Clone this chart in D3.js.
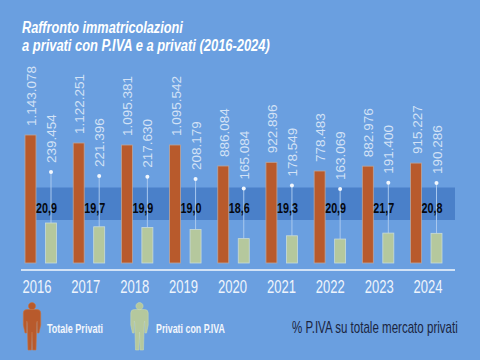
<!DOCTYPE html>
<html><head><meta charset="utf-8">
<script src="https://cdn.jsdelivr.net/npm/d3@7/dist/d3.min.js"></script>
<style>
html,body{margin:0;padding:0;background:#6a9fe0}
svg{display:block}
text{font-family:"Liberation Sans",sans-serif}
</style></head><body>
<script>
const years = ["2016","2017","2018","2019","2020","2021","2022","2023","2024"];
const totalePrivati = [1143078,1122251,1095381,1095542,886084,922896,778483,882976,915227];
const privatiPiva = [239454,221396,217630,208179,165084,178549,163069,191400,190286];
const quotaPiva = [20.9,19.7,19.9,19.0,18.6,19.3,20.9,21.7,20.8];
const titleLines = ["Raffronto immatricolazioni","a privati con P.IVA e a privati (2016-2024)"];

const W=480,H=360,base=263;
const orange="#b85a2c",green="#b5c89d",bg="#6a9fe0",band="#4a80c9",pale="#d3e2f6";
const svg=d3.select("body").append("svg").attr("width",W).attr("height",H);
svg.append("rect").attr("width",W).attr("height",H).attr("fill",bg);

const fmt=d3.formatLocale({decimal:",",thousands:".",grouping:[3],currency:["","€"]});
const num=fmt.format(",d"), pct=fmt.format(".1f");

const xBar=d3.scalePoint().domain(years).range([30.5,416]);
const xYear=d3.scaleBand().domain(years).range([12.5,452.5]);
// The source graphic is not drawn to one common scale: each series has its own.
const hOrange=d3.scaleLinear().domain([778483,886084,1095381,1122251,1143078]).range([92,97,118,120,128]);
const hGreen=d3.scaleLinear().domain([49000,239454]).range([0,40]);
const hDot=d3.scaleLinear().domain([163069,239454]).range([74,91]);

// The original type is a narrow face: squeeze each text horizontally to its width.
function squeeze(sel,xf,yf,wf){
  sel.each(function(d,i){
    const k=wf(d,i)/this.getComputedTextLength();
    d3.select(this).attr("x",null).attr("y",null).attr("dy",null)
      .attr("transform",`translate(${xf(d,i)},${yf(d,i)}) scale(${k},1)`);
  });
}

// title
svg.append("g").selectAll("text").data(titleLines).join("text")
  .attr("fill","#fff").attr("font-size",17).attr("font-weight","bold").attr("font-style","italic")
  .text(d=>d)
  .call(squeeze,()=>22,(d,i)=>33+i*18,(d,i)=>[161,248][i]);

// band
svg.append("rect").attr("x",27).attr("y",187.5).attr("width",428).attr("height",32.5).attr("fill",band);

// green leader lines and dots
const gx=d=>xBar(d)+20.5;
const rows=years.map((y,i)=>({y,t:totalePrivati[i],p:privatiPiva[i],q:quotaPiva[i]}));
svg.append("g").selectAll("line").data(rows).join("line")
  .attr("x1",d=>gx(d.y)).attr("x2",d=>gx(d.y))
  .attr("y1",d=>base-hDot(d.p)).attr("y2",d=>base-hGreen(d.p))
  .attr("stroke","#a9c8ee").attr("stroke-width",1);
svg.append("g").selectAll("circle").data(rows).join("circle")
  .attr("cx",d=>gx(d.y)).attr("cy",d=>base-hDot(d.p)).attr("r",2).attr("fill","#f2f7fd");

// bars
svg.append("g").selectAll("rect").data(rows).join("rect")
  .attr("x",d=>xBar(d.y)-5.5).attr("width",11)
  .attr("y",d=>base-hOrange(d.t)).attr("height",d=>hOrange(d.t))
  .attr("fill",orange).attr("stroke","#b9a6a0").attr("stroke-width",.8);
svg.append("g").selectAll("rect").data(rows).join("rect")
  .attr("x",d=>gx(d.y)-5.5).attr("width",11)
  .attr("y",d=>base-hGreen(d.p)).attr("height",d=>hGreen(d.p))
  .attr("fill",green).attr("stroke","#c9dbd8").attr("stroke-width",.8);

// rotated values
const vText=(data,xf,yf,val)=>svg.append("g").selectAll("text").data(data).join("text")
  .attr("transform",d=>`translate(${xf(d)},${yf(d)}) rotate(-90)`)
  .attr("fill",pale).attr("font-size",13.5)
  .text(val);
vText(rows,d=>xBar(d.y)+5.5,d=>base-hOrange(d.t)-9,d=>num(d.t));
vText(rows,d=>gx(d.y)+5,d=>base-hDot(d.p)-9,d=>num(d.p));

// percentages
svg.append("g").selectAll("text").data(rows).join("text")
  .attr("text-anchor","middle")
  .attr("fill","#05080f").attr("font-size",15).attr("font-weight","bold")
  .text(d=>pct(d.q))
  .call(squeeze,d=>xBar(d.y)+16,()=>213,()=>21);

// baseline + year axis
svg.append("line").attr("x1",21).attr("x2",455).attr("y1",270).attr("y2",270).attr("stroke","#f4f8fe").attr("stroke-width",1.6);
const ax=svg.append("g").attr("transform","translate(0,293)").call(d3.axisBottom(xYear).tickSize(0).tickPadding(0));
ax.select(".domain").remove();
ax.selectAll("text").attr("fill","#eef4fc").attr("font-size",18)
  .call(squeeze,()=>0,()=>0,()=>29);

// legend figures
const person="M0,-24.5 a3.6,3.6 0 1 0 .01,0 Z M-5,-17.5 L5,-17.5 Q8.7,-17.5 8.7,-14 L8.7,-2 L7,6 L5.4,6 L5.2,-6 L4.7,-4 L4,23 L.6,23 L0,5 L-.6,23 L-4,23 L-4.7,-4 L-5.2,-6 L-5.4,6 L-7,6 L-8.7,-2 L-8.7,-14 Q-8.7,-17.5 -5,-17.5 Z";
const legend=[{x:32,c:orange,s:"#c9743f",t:"Totale Privati",tx:47,w:56},{x:139.5,c:green,s:"#c6d7b4",t:"Privati con P.IVA",tx:156,w:69}];
const lg=svg.append("g").selectAll("g").data(legend).join("g");
lg.append("path").attr("d",person).attr("transform",d=>`translate(${d.x},327)`)
  .attr("fill",d=>d.c).attr("stroke",d=>d.s).attr("stroke-width",.6);
lg.append("text").attr("fill","#f2f6fc")
  .attr("font-size",13).attr("font-weight","bold").text(d=>d.t)
  .call(squeeze,d=>d.tx,()=>333,d=>d.w);

svg.append("text").datum("% P.IVA su totale mercato privati")
  .attr("fill","#1b2540").attr("font-size",16).text(d=>d)
  .call(squeeze,()=>292,()=>332.5,()=>166);
</script>
</body></html>
